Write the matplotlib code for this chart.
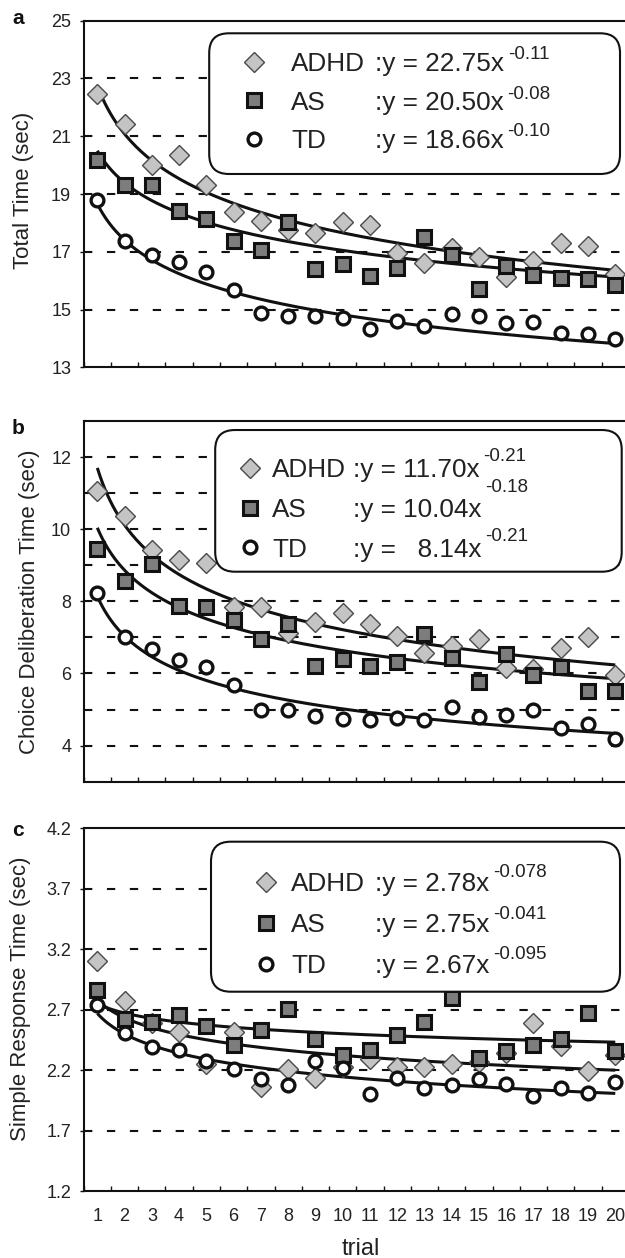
import numpy as np
import matplotlib
matplotlib.use("Agg")
import matplotlib.pyplot as plt
from matplotlib.patches import FancyBboxPatch

plt.rcParams['font.family'] = ['Liberation Sans', 'DejaVu Sans']
plt.rcParams['text.color'] = '#222222'

trials = list(range(1, 21))
groups = ['ADHD', 'AS', 'TD']

# a: total time (sec)
total_adhd = [22.45, 21.41, 20.00, 20.35, 19.33, 18.37, 18.07, 17.75, 17.65, 18.03,
              17.93, 16.96, 16.60, 17.15, 16.83, 16.14, 16.70, 17.30, 17.19, 16.25]
total_as = [20.18, 19.30, 19.30, 18.41, 18.13, 17.38, 17.07, 18.03, 16.42, 16.57,
            16.17, 16.46, 17.53, 16.88, 15.71, 16.51, 16.19, 16.11, 16.05, 15.85]
total_td = [18.80, 17.36, 16.89, 16.66, 16.31, 15.69, 14.88, 14.77, 14.79, 14.70,
            14.33, 14.60, 14.45, 14.85, 14.79, 14.53, 14.58, 14.18, 14.16, 13.99]
total_coef = [22.75, 20.50, 18.66]
total_exp = [-0.11, -0.08, -0.10]
total_eq = [':y = 22.75x', ':y = 20.50x', ':y = 18.66x']
total_exp_txt = ['-0.11', '-0.08', '-0.10']

# b: choice deliberation time (sec)
choice_adhd = [11.06, 10.36, 9.42, 9.14, 9.05, 7.83, 7.83, 7.12, 7.44, 7.69,
               7.36, 7.05, 6.56, 6.75, 6.95, 6.15, 6.12, 6.70, 7.00, 5.96]
choice_as = [9.44, 8.56, 9.03, 7.88, 7.85, 7.47, 6.95, 7.37, 6.21, 6.40,
             6.22, 6.33, 7.09, 6.42, 5.76, 6.54, 5.96, 6.17, 5.52, 5.52]
choice_td = [8.22, 7.02, 6.67, 6.38, 6.19, 5.69, 5.00, 5.00, 4.83, 4.74,
             4.70, 4.77, 4.70, 5.07, 4.78, 4.86, 5.00, 4.49, 4.60, 4.17]
choice_coef = [11.70, 10.04, 8.14]
choice_exp = [-0.21, -0.18, -0.21]
choice_eq = [':y = 11.70x', ':y = 10.04x', ':y =   8.14x']
choice_exp_txt = ['-0.21', '-0.18', '-0.21']

# c: simple response time (sec)
simple_adhd = [3.10, 2.77, 2.59, 2.52, 2.25, 2.52, 2.06, 2.21, 2.14, 2.23,
               2.29, 2.23, 2.23, 2.25, 2.27, 2.34, 2.59, 2.40, 2.19, 2.33]
simple_as = [2.86, 2.62, 2.60, 2.66, 2.57, 2.41, 2.53, 2.71, 2.46, 2.33,
             2.37, 2.49, 2.60, 2.80, 2.30, 2.36, 2.41, 2.46, 2.67, 2.36]
simple_td = [2.74, 2.51, 2.39, 2.37, 2.28, 2.21, 2.13, 2.08, 2.28, 2.22,
             2.00, 2.14, 2.05, 2.08, 2.13, 2.09, 1.99, 2.05, 2.01, 2.10]
simple_coef = [2.78, 2.75, 2.67]
simple_exp = [-0.078, -0.041, -0.095]
simple_eq = [':y = 2.78x', ':y = 2.75x', ':y = 2.67x']
simple_exp_txt = ['-0.078', '-0.041', '-0.095']

# marker styles per group
styles = {
    'ADHD': dict(marker='D', ms=10.5, mfc='#c4c4c4', mec='#4a4a4a', mew=1.0, zorder=4),
    'AS': dict(marker='s', ms=9.6, mfc='#7d7d7d', mec='#111111', mew=2.2, zorder=5),
    'TD': dict(marker='o', ms=9.2, mfc='white', mec='#111111', mew=2.4, zorder=6),
}

fig = plt.figure(figsize=(6.25, 12.58), dpi=100)

W, H = 625.0, 1258.0
ax_left = 83.7
ax_w = 545.2


def make_axes(top, bottom):
    return fig.add_axes([ax_left / W, 1 - bottom / H, ax_w / W, (bottom - top) / H])


panels = [
    dict(top=20.7, bottom=367.5, data=[total_adhd, total_as, total_td],
         coef=total_coef, exp=total_exp, eq=total_eq, exptxt=total_exp_txt,
         ylim=(13, 25), yticks=np.arange(13, 25.1, 2), ygrid=np.arange(15, 23.1, 2),
         ylabel='Total Time (sec)', ylab_x=23, ylab_y=0.51, letter='a', letter_y=19,
         box=(0.2302, 0.558, 0.9837, 0.9637), leg_x=0.2885, leg_y=0.7641, tpad=0.915,
         eq_x=0.5336, rows_sp=0.55, raise_=[9.5, 8.5, 9.0], ytfmt='%d'),
    dict(top=421.0, bottom=781.7, data=[choice_adhd, choice_as, choice_td],
         coef=choice_coef, exp=choice_exp, eq=choice_eq, exptxt=choice_exp_txt,
         ylim=(3, 13), yticks=np.arange(4, 12.1, 2), ygrid=np.arange(4, 12.1, 1),
         ylabel='Choice Deliberation Time (sec)', ylab_x=30, ylab_y=0.5, letter='b', letter_y=428,
         box=(0.2412, 0.5822, 0.9868, 0.975), leg_x=0.2812, leg_y=0.7535, tpad=0.34,
         eq_x=0.4934, rows_sp=0.6, raise_=[14.0, 22.0, 13.5], ytfmt='%d'),
    dict(top=828.3, bottom=1191.25, data=[simple_adhd, simple_as, simple_td],
         coef=simple_coef, exp=simple_exp, eq=simple_eq, exptxt=simple_exp_txt,
         ylim=(1.2, 4.2), yticks=np.arange(1.2, 4.21, 0.5), ygrid=np.arange(1.7, 3.71, 0.5),
         ylabel='Simple Response Time (sec)', ylab_x=20, ylab_y=0.53, letter='c', letter_y=831,
         box=(0.2335, 0.5498, 0.9837, 0.9631), leg_x=0.3105, leg_y=0.7336, tpad=0.456,
         eq_x=0.5337, rows_sp=0.65, raise_=[11.5, 10.5, 11.5], ytfmt='%.1f'),
]

xs = np.linspace(1, 20, 200)

for i, p in enumerate(panels):
    ax = make_axes(p['top'], p['bottom'])
    ax.set_xlim(0.5, 20.5)
    ax.set_ylim(*p['ylim'])

    # dashed horizontal grid
    for g in p['ygrid']:
        ax.axhline(g, color='#111111', lw=1.5, linestyle=(0, (4, 7)), zorder=1)

    handles = []
    for name, ys, a, b in zip(groups, p['data'], p['coef'], p['exp']):
        ax.plot(xs, a * xs ** b, color='#111111', lw=2.2, zorder=3, solid_capstyle='butt')
        ln, = ax.plot(trials, ys, linestyle='none', **styles[name])
        handles.append(ln)

    # rounded legend box
    x0, y0, x1, y1 = p['box']
    aspect = ax_w / (p['bottom'] - p['top'])
    box = FancyBboxPatch((x0, y0), x1 - x0, y1 - y0, transform=ax.transAxes,
                         boxstyle='round,pad=0,rounding_size=0.036', mutation_aspect=aspect,
                         facecolor='white', edgecolor='#111111', lw=1.5, zorder=7)
    ax.add_patch(box)

    leg = ax.legend(handles, groups, loc='center left', bbox_to_anchor=(p['leg_x'], p['leg_y']),
                    frameon=False, fontsize=18.8, borderpad=0, borderaxespad=0,
                    handlelength=1.0, handletextpad=p['tpad'], labelspacing=p['rows_sp'],
                    numpoints=1)
    leg.set_zorder(8)
    for t in leg.get_texts():
        t.set_color('#222222')

    for k, t in enumerate(leg.get_texts()):
        base = ax.annotate(p['eq'][k], xy=(p['eq_x'], 0.5), xycoords=(ax.transAxes, t),
                           ha='left', va='center', fontsize=18.8, color='#222222', zorder=9)
        ax.annotate(p['exptxt'][k], xy=(1, 0.5), xycoords=base, xytext=(3, p['raise_'][k] * 0.72),
                    textcoords='offset points', ha='left', va='center', fontsize=13.5,
                    color='#222222', zorder=9)

    # axes styling
    for s in ax.spines.values():
        s.set_linewidth(1.5)
        s.set_color('#111111')
        s.set_zorder(10)
    ax.set_yticks(p['yticks'])
    ax.set_yticklabels([p['ytfmt'] % v for v in p['yticks']])
    ax.tick_params(axis='y', direction='out', length=3, width=1, pad=6,
                   labelsize=13, labelcolor='#222222', color='#111111')
    ax.set_xticks(trials)
    ax.set_xticks(np.arange(0.5, 20.6, 1), minor=True)
    ax.tick_params(axis='x', which='major', length=0, pad=12, labelsize=13,
                   labelcolor='#222222', labelbottom=(i == 2))
    ax.tick_params(axis='x', which='minor', direction='in', length=3.5, width=1, color='#111111')
    ax.tick_params(axis='y', which='minor', length=0)

    ax.text((p['ylab_x'] - ax_left) / ax_w, p['ylab_y'], p['ylabel'], transform=ax.transAxes,
            rotation=90, ha='center', va='center', fontsize=16, color='#222222')
    fig.text(18 / W, 1 - p['letter_y'] / H, p['letter'], ha='center', va='center',
             fontsize=15, fontweight='bold', color='#111111')

    if i == 2:
        ax.text((360.7 - ax_left) / ax_w, -(1249 - p['bottom']) / (p['bottom'] - p['top']),
                'trial', transform=ax.transAxes, ha='center', va='center',
                fontsize=17, color='#222222')

fig.savefig('out.png', dpi=100)
